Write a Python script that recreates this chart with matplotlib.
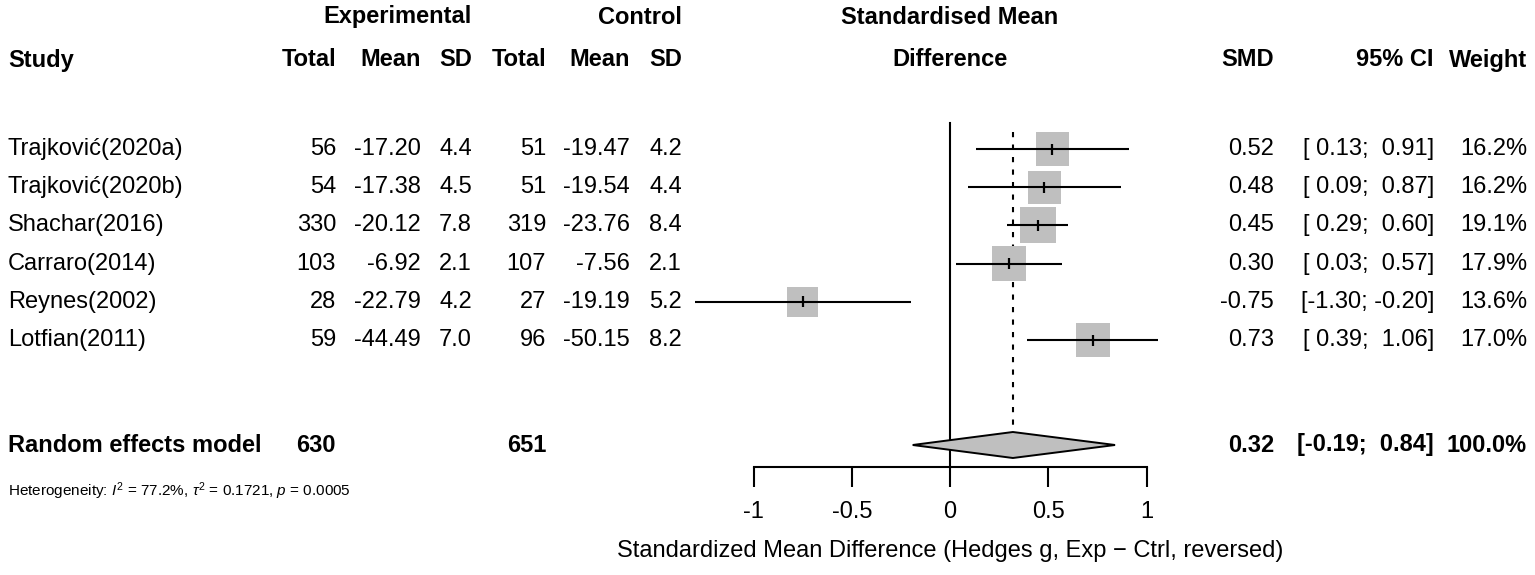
import matplotlib
matplotlib.use("Agg")
import matplotlib.pyplot as plt
import matplotlib.transforms as mtransforms
from matplotlib.patches import Rectangle, Polygon
import numpy as np

# ---------------- data ----------------
studies = ["Trajković(2020a)", "Trajković(2020b)", "Shachar(2016)",
           "Carraro(2014)", "Reynes(2002)", "Lotfian(2011)"]
exp_n = [56, 54, 330, 103, 28, 59]
exp_mean = [-17.20, -17.38, -20.12, -6.92, -22.79, -44.49]
exp_sd = [4.4, 4.5, 7.8, 2.1, 4.2, 7.0]
ctrl_n = [51, 51, 319, 107, 27, 96]
ctrl_mean = [-19.47, -19.54, -23.76, -7.56, -19.19, -50.15]
ctrl_sd = [4.2, 4.4, 8.4, 2.1, 5.2, 8.2]
smd = [0.52, 0.48, 0.45, 0.30, -0.75, 0.73]
ci_lo = [0.13, 0.09, 0.29, 0.03, -1.30, 0.39]
ci_hi = [0.91, 0.87, 0.60, 0.57, -0.20, 1.06]
weight = [16.2, 16.2, 19.1, 17.9, 13.6, 17.0]
pooled_label = "Random effects model"
pooled = 0.32
pooled_lo = -0.19
pooled_hi = 0.84
pooled_weight = 100.0
total_exp = 630
total_ctrl = 651
i2 = 77.2
tau2 = 0.1721
p_het = 0.0005
xticks = [-1, -0.5, 0, 0.5, 1]
xticklabels = ["-1", "-0.5", "0", "0.5", "1"]
xlabel = "Standardized Mean Difference (Hedges g, Exp \u2212 Ctrl, reversed)"

# ---------------- layout ----------------
W, H = 1535, 575
plt.rcParams['font.family'] = ['Liberation Sans', 'DejaVu Sans']
plt.rcParams['mathtext.fontset'] = 'custom'
plt.rcParams['mathtext.rm'] = 'Liberation Sans'
plt.rcParams['mathtext.it'] = 'Liberation Sans:italic'

fig = plt.figure(figsize=(W / 100, H / 100), dpi=100)
ax = fig.add_axes([0, 0, 1, 1])
x0_px, unit_px = 950.0, 196.5          # pixel of SMD=0 and pixels per unit
ax.set_xlim((0 - x0_px) / unit_px, (W - x0_px) / unit_px)
ax.set_ylim(H, 0)                        # y in pixel rows from the top
ax.set_facecolor('none')
for s in ['top', 'right', 'left']:
    ax.spines[s].set_visible(False)
ax.set_yticks([])

FS = 17
FS_SMALL = 11
row0, drow = 149, 38.2
row_y = [row0 + i * drow for i in range(len(studies))]
y_pool = 445
y_axis = 467
y_head1, y_head2 = 17, 60
y_het = 491

tr = mtransforms.blended_transform_factory(fig.transFigure, ax.transData)
def col(xpx):
    return xpx / W

# columns (right edge in pixels)
c_study = 8
c_en, c_em, c_es = 336, 421, 472
c_cn, c_cm, c_cs = 546, 630, 682
c_smd, c_ci, c_w = 1274, 1434, 1527

def t(x, y, s, ha='right', bold=False, size=FS):
    ax.text(col(x), y, s, transform=tr, ha=ha, va='center', fontsize=size,
            fontweight='bold' if bold else 'normal', color='black')

# headers
t(c_es, y_head1, "Experimental", bold=True)
t(c_cs, y_head1, "Control", bold=True)
t(950, y_head1, "Standardised Mean", ha='center', bold=True)
t(c_study, y_head2, "Study", ha='left', bold=True)
for xx, lab in [(c_en, "Total"), (c_em, "Mean"), (c_es, "SD"),
                (c_cn, "Total"), (c_cm, "Mean"), (c_cs, "SD"),
                (c_smd, "SMD"), (c_ci, "95% CI"), (c_w, "Weight")]:
    t(xx, y_head2, lab, bold=True)
t(950, y_head2, "Difference", ha='center', bold=True)

# study rows
for i, y in enumerate(row_y):
    t(c_study, y, studies[i], ha='left')
    t(c_en, y, f"{exp_n[i]}")
    t(c_em, y, f"{exp_mean[i]:.2f}")
    t(c_es, y, f"{exp_sd[i]:.1f}")
    t(c_cn, y, f"{ctrl_n[i]}")
    t(c_cm, y, f"{ctrl_mean[i]:.2f}")
    t(c_cs, y, f"{ctrl_sd[i]:.1f}")
    t(c_smd, y, f"{smd[i]:.2f}")
    t(c_ci, y, f"[{ci_lo[i]:5.2f}; {ci_hi[i]:5.2f}]")
    t(c_w, y, f"{weight[i]:.1f}%")
    # box (side proportional to sqrt(weight))
    side = 8.24 * np.sqrt(weight[i])
    ax.add_patch(Rectangle((smd[i] - side / 2 / unit_px, y - side / 2),
                           side / unit_px, side, facecolor='#bfbfbf',
                           edgecolor='none', zorder=2))
    ax.plot([ci_lo[i], ci_hi[i]], [y, y], color='black', lw=1.5, zorder=3,
            solid_capstyle='butt')
    ax.plot([smd[i], smd[i]], [y - 5.5, y + 5.5], color='black', lw=1.6,
            zorder=4, solid_capstyle='butt')

# pooled row
t(c_study, y_pool, pooled_label, ha='left', bold=True)
t(c_en, y_pool, f"{total_exp}", bold=True)
t(c_cn, y_pool, f"{total_ctrl}", bold=True)
t(c_smd, y_pool, f"{pooled:.2f}", bold=True)
t(c_ci, y_pool, f"[{pooled_lo:5.2f}; {pooled_hi:5.2f}]", bold=True)
t(c_w, y_pool, f"{pooled_weight:.1f}%", bold=True)
dh = 13
ax.add_patch(Polygon([(pooled_lo, y_pool), (pooled, y_pool - dh),
                      (pooled_hi, y_pool), (pooled, y_pool + dh)],
                     closed=True, facecolor='#bfbfbf', edgecolor='black',
                     lw=1.4, zorder=3))

# heterogeneity
t(c_study, y_het,
  f"Heterogeneity: $I^2$ = {i2:.1f}%, $\\tau^2$ = {tau2:.4f}, $p$ = {p_het:.4f}",
  ha='left', size=FS_SMALL)

# reference lines
ax.plot([0, 0], [123, y_axis], color='black', lw=1.5, zorder=1)
ax.plot([pooled, pooled], [132, y_pool - dh], color='black', lw=1.5,
        ls=(0, (2.5, 3.5)), zorder=1)

# x axis
ax.spines['bottom'].set_position(('data', y_axis))
ax.spines['bottom'].set_bounds(-1, 1)
ax.spines['bottom'].set_linewidth(1.5)
ax.set_xticks(xticks)
ax.set_xticklabels(xticklabels, fontsize=FS)
ax.tick_params(axis='x', direction='out', length=14.5, width=1.5, pad=10)
t(950, 551, xlabel, ha='center')

fig.savefig("out.png", dpi=100)
